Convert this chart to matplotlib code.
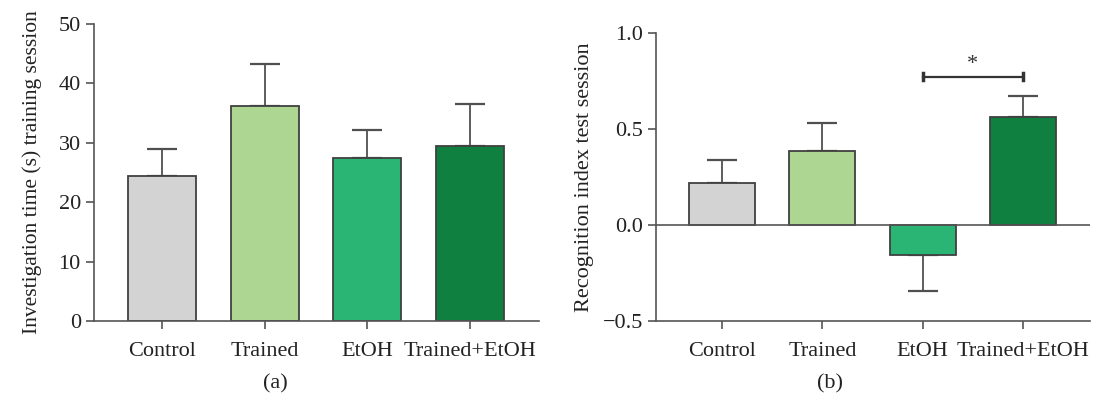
import numpy as np
import matplotlib
matplotlib.use('Agg')
import matplotlib.pyplot as plt

plt.rcParams['font.family'] = ['Liberation Serif', 'DejaVu Serif']

# data
groups = ['Control', 'Trained', 'EtOH', 'Trained+EtOH']
colors = ['#d3d3d3', '#acd691', '#2bb574', '#0f8040']

time_mean = [24.4, 36.2, 27.5, 29.5]
time_err = [4.5, 7.1, 4.6, 7.1]

ri_mean = [0.219, 0.386, -0.154, 0.563]
ri_err = [0.122, 0.144, 0.192, 0.107]

edge = '#404040'
axcol = '#555555'
txtcol = '#222222'

fig = plt.figure(figsize=(10.96, 4), dpi=100)
ax1 = fig.add_axes([0.0858, 0.1975, 0.406, 0.7425])
ax2 = fig.add_axes([0.5985, 0.1975, 0.396, 0.72])

x = np.arange(len(groups))


def style_axis(ax):
    for s in ['top', 'right']:
        ax.spines[s].set_visible(False)
    for s in ['left', 'bottom']:
        ax.spines[s].set_color(axcol)
        ax.spines[s].set_linewidth(1.2)
    ax.tick_params(axis='both', colors=axcol, width=1.2, length=6,
                   labelcolor=txtcol, labelsize=16)
    ax.tick_params(axis='x', pad=9)
    ax.set_xticks(x)
    ax.set_xticklabels(groups)
    ax.set_xlim(-0.66, 3.67)


def draw_bars(ax, means, errs):
    ax.bar(x, means, width=0.66, color=colors, edgecolor=edge, linewidth=1.3, zorder=2)
    for xi, m, e in zip(x, means, errs):
        if m >= 0:
            yerr = [[0], [e]]
        else:
            yerr = [[e], [0]]
        ax.errorbar(xi, m, yerr=yerr, fmt='none', ecolor='#505050', elinewidth=1.3,
                    capsize=10.5, capthick=1.6, zorder=1)


# panel (a)
draw_bars(ax1, time_mean, time_err)
style_axis(ax1)
ax1.set_ylim(0, 50)
ax1.set_yticks([0, 10, 20, 30, 40, 50])
ax1.set_ylabel('Investigation time (s) training session', fontsize=15.5, color=txtcol, labelpad=12)

# panel (b)
draw_bars(ax2, ri_mean, ri_err)
style_axis(ax2)
ax2.set_ylim(-0.5, 1.0)
ax2.set_yticks([-0.5, 0.0, 0.5, 1.0])
ax2.set_yticklabels(['\u22120.5', '0.0', '0.5', '1.0'])
ax2.axhline(0, color=axcol, linewidth=1.2, zorder=3)
ax2.set_ylabel('Recognition index test session', fontsize=16, color=txtcol, labelpad=6)

# panel letters
fig.text(275 / 1096, 0.04, '(a)', ha='center', va='center', fontsize=16, color=txtcol)
fig.text(830 / 1096, 0.04, '(b)', ha='center', va='center', fontsize=16, color=txtcol)

# significance bracket
sig_y = 0.773
ax2.plot([2, 3], [sig_y, sig_y], color='#333333', linewidth=1.6)
ax2.plot([2, 2], [sig_y - 0.018, sig_y + 0.018], color='#333333', linewidth=2.5)
ax2.plot([3, 3], [sig_y - 0.018, sig_y + 0.018], color='#333333', linewidth=2.5)
ax2.text(2.5, sig_y + 0.015, '*', ha='center', va='bottom', fontsize=16, color='#333333')

fig.savefig('out.png', dpi=100)
